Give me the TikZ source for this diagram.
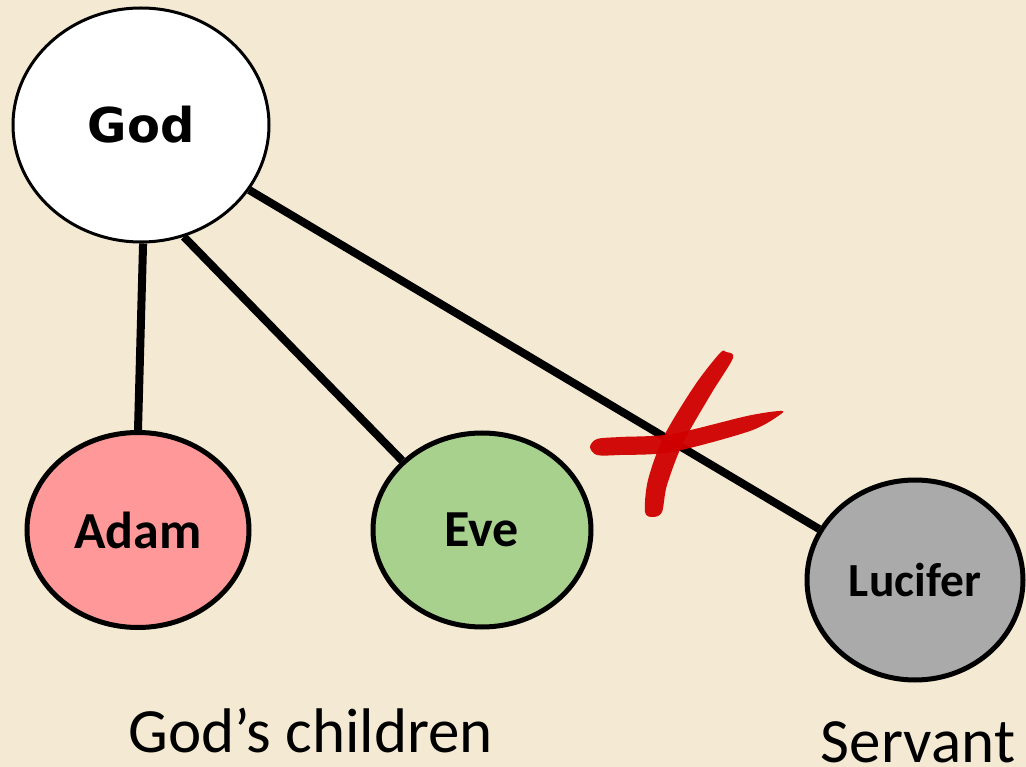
\documentclass[tikz,border=0pt]{standalone}
\usepackage{fontspec}
\setmainfont{Carlito}
\newfontfamily\godfont{DejaVu Sans}
\usetikzlibrary{shapes.geometric}
\definecolor{bgc}{RGB}{244,233,210}
\definecolor{adamc}{RGB}{255,153,153}
\definecolor{evec}{RGB}{169,209,142}
\definecolor{lucc}{RGB}{170,170,170}
\definecolor{crossc}{RGB}{208,0,0}
\tikzset{
  person/.style={ellipse, draw=black, line width=5pt, inner sep=0pt, font=\bfseries},
  link/.style={draw=black, line width=8pt},
  caption/.style={anchor=base, inner sep=0pt, font=\fontsize{63}{70}\selectfont},
  brush/.style={fill=crossc, draw=none, opacity=0.95}
}
\begin{document}
\begin{tikzpicture}[x=1pt,y=-1pt]
\useasboundingbox (0,0) rectangle (1026,767);
\fill[bgc] (0,0) rectangle (1026,767);
\node[person, fill=white, line width=3pt, minimum width=256pt, minimum height=234pt,
      font=\godfont\bfseries\fontsize{48}{56}\selectfont] (god) at (141,125) {God};
\node[person, fill=adamc, minimum width=222pt, minimum height=195pt,
      font=\bfseries\fontsize{52}{60}\selectfont] (adam) at (138,530) {Adam};
\node[person, fill=evec, minimum width=218pt, minimum height=194pt,
      font=\bfseries\fontsize{52}{60}\selectfont] (eve) at (482,530) {Eve};
\node[person, fill=lucc, minimum width=216pt, minimum height=200pt,
      font=\bfseries\fontsize{47.5}{55}\selectfont] (lucifer) at (915,580) {Lucifer};
\draw[link] (god.-89) -- (adam.north);
\draw[link] (god.-69) -- (eve.139);
\draw[link] (god.-31.6) -- (lucifer.152);
% red cross
\fill[brush] plot[smooth cycle] coordinates {(597,439) (620,437) (672,434) (747,416) (779,411) (781,414) (750,431) (672,452) (620,455) (597,455) (590,447)};
\fill[brush] plot[smooth cycle] coordinates {(726,352) (733,358) (711,394) (683,443) (667,485) (662,512) (653,517) (645,512) (648,480) (664,436) (695,385) (720,353)};
% captions
\node[caption] (children) at (311,752) {God’s children};
\node[caption] (servant) at (918,762) {Servant};
\end{tikzpicture}
\end{document}
